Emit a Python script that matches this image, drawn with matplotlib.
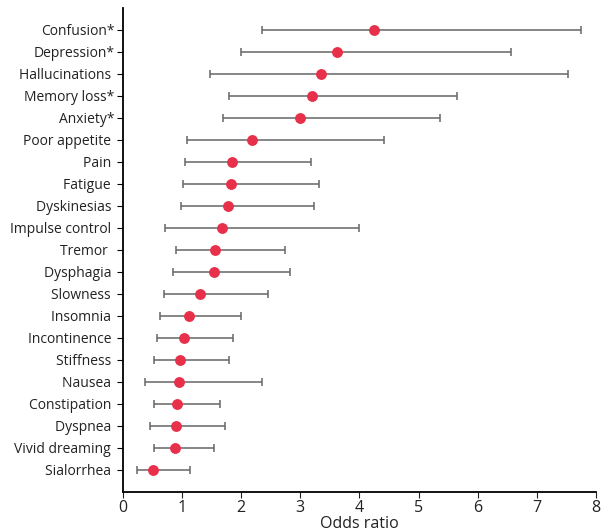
import numpy as np
import matplotlib
matplotlib.use("Agg")
import matplotlib.pyplot as plt

plt.rcParams['font.family'] = ['Open Sans', 'DejaVu Sans']

symptoms = ["Confusion*", "Depression*", "Hallucinations ", "Memory loss*", "Anxiety*",
            "Poor appetite ", "Pain ", "Fatigue ", "Dyskinesias ", "Impulse control ",
            "Tremor  ", "Dysphagia ", "Slowness ", "Insomnia ", "Incontinence ",
            "Stiffness ", "Nausea ", "Constipation ", "Dyspnea ", "Vivid dreaming ",
            "Sialorrhea "]
odds = [4.25, 3.62, 3.35, 3.19, 3.00, 2.19, 1.84, 1.82, 1.78, 1.68, 1.56,
        1.54, 1.31, 1.12, 1.04, 0.96, 0.94, 0.92, 0.89, 0.88, 0.51]
ci_low = [2.35, 1.99, 1.48, 1.80, 1.69, 1.09, 1.05, 1.01, 0.98, 0.71, 0.89,
          0.84, 0.70, 0.63, 0.58, 0.52, 0.38, 0.52, 0.46, 0.52, 0.23]
ci_high = [7.74, 6.57, 7.52, 5.65, 5.36, 4.41, 3.18, 3.31, 3.23, 4.00, 2.74,
           2.82, 2.45, 2.00, 1.86, 1.80, 2.35, 1.64, 1.72, 1.54, 1.13]

odds = np.array(odds)
err = [odds - np.array(ci_low), np.array(ci_high) - odds]
y = np.arange(len(symptoms))[::-1]

fig = plt.figure(figsize=(6.14, 5.32), dpi=100)
ax = fig.add_axes([0.2003, 0.0752, 0.7704, 0.9098])
ax.errorbar(odds, y, xerr=err, fmt='none', ecolor='#666666', elinewidth=1.1,
            capsize=3, capthick=1.1)
ax.plot(odds, y, 'o', color='#e8304a', markersize=6.8, zorder=3)

ax.set_yticks(y)
ax.set_yticklabels(symptoms, fontsize=10, color='#222222')
ax.set_ylim(-1, len(symptoms))
ax.set_xlim(0, 8)
ax.set_xticks(range(9))
ax.tick_params(axis='x', labelsize=11.5, length=4, pad=2, colors='#222222')
ax.tick_params(axis='y', length=4, pad=2)
ax.set_xlabel("Odds ratio", fontsize=11.5, labelpad=0, color='#222222')
ax.spines['top'].set_visible(False)
ax.spines['right'].set_visible(False)
ax.spines['left'].set_linewidth(1.3)
ax.spines['bottom'].set_linewidth(1.3)

fig.savefig("out.png", dpi=100)
